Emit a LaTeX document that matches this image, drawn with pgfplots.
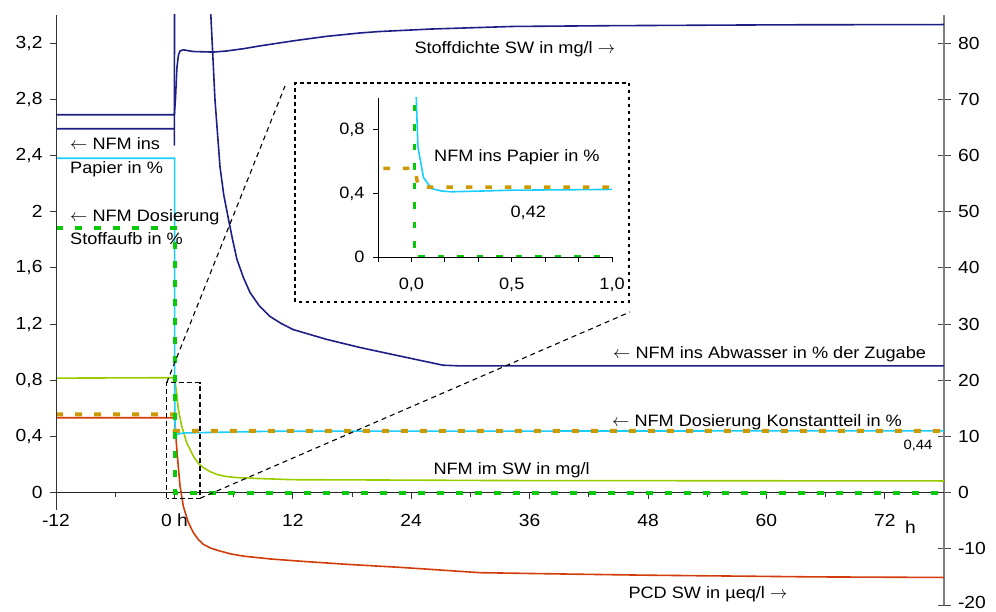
\documentclass[border=0pt]{standalone}
\usepackage{fontspec}
\setmainfont{Liberation Sans}[FakeStretch=1.1]
\usepackage{pgfplots}
\pgfplotsset{compat=1.18}

\definecolor{navyline}{RGB}{30,30,135}
\definecolor{papier}{RGB}{25,205,255}
\definecolor{dosgreen}{RGB}{10,200,10}
\definecolor{konst}{RGB}{204,153,0}
\definecolor{swgreen}{RGB}{153,204,0}
\definecolor{pcd}{RGB}{210,60,10}

\newcommand{\lbl}{\fontsize{16.5}{19}\selectfont}
\newcommand{\tck}{\fontsize{17.5}{20}\selectfont}
\newcommand{\la}{\ensuremath{\leftarrow}}
\newcommand{\ra}{\ensuremath{\rightarrow}}

\begin{document}
\begin{tikzpicture}
\useasboundingbox (-56pt,-7pt) rectangle (940pt,605pt);

% right-hand scale (Stoffdichte, PCD)
\begin{axis}[
  at={(0pt,0pt)}, anchor=south west,
  scale only axis, width=888pt, height=590pt,
  xmin=-12, xmax=78, ymin=-20, ymax=85,
  axis x line=none, axis y line*=right,
  axis line style={-},
  y axis line style={draw=black!50, line width=1.3pt},
  ytick={-20,-10,0,10,20,30,40,50,60,70,80},
  yticklabels={\raisebox{5pt}{-20},-10,0,10,20,30,40,50,60,70,80},
  tick align=center, major tick length=13pt,
  ytick style={black!70, line width=0.9pt},
  tick label style={font=\tck, text=black},
  yticklabel style={xshift=4pt},
]
\end{axis}

% left-hand scale and all curves
\begin{axis}[
  at={(0pt,0pt)}, anchor=south west,
  scale only axis, width=888pt, height=590pt,
  xmin=-12, xmax=78, ymin=-0.8, ymax=3.4,
  axis x line=middle, axis y line=left,
  axis line style={-},
  x axis line style={black!85, line width=1pt},
  y axis line style={draw=none},
  hide obscured x ticks=false, hide obscured y ticks=false,
  xtick={-12,0,12,24,36,48,60,72},
  xticklabels={-12,0 h,12,24,36,48,60,72},
  minor xtick={-6,6,18,30,42,54,66},
  ytick={0,0.4,0.8,1.2,1.6,2,2.4,2.8,3.2},
  yticklabels={0,{0,4},{0,8},{1,2},{1,6},2,{2,4},{2,8},{3,2}},
  tick align=outside, major tick length=6pt, minor tick length=4pt,
  tick style={black!80, line width=0.9pt},
  tick label style={font=\tck, text=black},
  xticklabel style={yshift=-12pt},
  yticklabel style={xshift=-4pt},
  clip=true,
]
% NFM ins Abwasser in % der Zugabe
\addplot[navyline, line width=1.6pt] coordinates {
 (-12,2.59) (0,2.59) (0,2.47) (0.05,9) (3.3,4.0) (3.68,3.42) (4.11,2.80)
 (4.62,2.32) (5.0,2.12) (5.43,1.965) (5.9,1.80) (6.34,1.66) (7.0,1.53)
 (7.66,1.425) (8.6,1.33) (9.69,1.254) (10.8,1.205) (12.02,1.161)
 (15.47,1.09) (18.81,1.033) (22.86,0.972) (25,0.94) (27.22,0.907)
 (29,0.902) (78,0.902)};
% Stoffdichte SW in mg/l (right scale)
\addplot[navyline, line width=1.6pt] table[y expr=\thisrow{v}/25] {
 t v
 -12 67.25
 0 67.25
 0.12 70.5
 0.25 75.5
 0.4 77.8
 0.57 78.6
 0.9 78.8
 1.92 78.5
 3.94 78.4
 5.3 78.6
 7.0 79.0
 8.67 79.5
 12.05 80.4
 15.43 81.2
 18.8 81.8
 20.8 82.06
 26 82.5
 34.3 82.96
 44.45 83.1
 61.4 83.25
 78 83.3
};
% NFM im SW in mg/l
\addplot[swgreen, line width=1.6pt] coordinates {
 (-12,0.815) (0,0.818) (0.05,0.80) (0.22,0.711) (0.4,0.592) (0.74,0.474)
 (1.24,0.356) (1.92,0.26) (2.4,0.21) (2.93,0.178) (3.6,0.15) (4.28,0.13)
 (5.2,0.115) (6.31,0.107) (8.67,0.10) (12.05,0.092) (20,0.09) (33,0.086)
 (78,0.083)};
% PCD SW in µeq/l (right scale)
\addplot[pcd, line width=1.6pt] table[y expr=\thisrow{v}/25] {
 t v
 -12 13.33
 0 13.33
 0.05 12.5
 0.22 8.3
 0.4 4.5
 0.57 1.2
 0.9 -2.4
 1.41 -5.3
 1.92 -7.1
 2.4 -8.3
 2.93 -9.2
 3.7 -9.9
 4.62 -10.4
 5.7 -10.9
 6.98 -11.3
 9.69 -11.8
 12.73 -12.2
 17.8 -12.8
 22.86 -13.3
 31 -14.25
 40 -14.5
 48 -14.7
 65 -15.0
 78 -15.1
};
% NFM ins Papier in %
\addplot[papier, line width=1.6pt] coordinates {
 (-12,2.38) (0.024,2.38) (0.024,1.0) (0.032,0.695) (0.06,0.5) (0.1,0.43)
 (0.15,0.415) (0.2,0.41) (0.5,0.42) (1,0.425) (5,0.43) (10,0.437) (78,0.44)};
% NFM Dosierung Konstantteil in %
\addplot[konst, line width=4pt, dash pattern=on 7pt off 12pt] coordinates {
 (-12,0.557) (0.015,0.557) (0.035,0.44) (78,0.44)};
% NFM Dosierung Stoffaufb in %
\addplot[dosgreen, line width=4pt, dash pattern=on 7pt off 12pt] coordinates {
 (-12,1.886) (0.015,1.886) (0.015,0) (78,0)};
\end{axis}

% left axis line
\draw[black!80, line width=1pt] (0pt,95pt) -- (0pt,590pt);

% zoom frame and connectors
\draw[black, line width=1.1pt, dash pattern=on 5pt off 3pt]
  (110.7pt,106.7pt) rectangle (144pt,222.3pt);
\draw[black, line width=1.1pt, dash pattern=on 5pt off 4pt]
  (110.7pt,222.3pt) -- (229pt,519pt);
\draw[black, line width=1.1pt, dash pattern=on 5pt off 4pt]
  (144pt,106.7pt) -- (574pt,293pt);

% inset frame
\fill[white] (239pt,303pt) rectangle (573pt,522pt);
\draw[black, line width=2.6pt, dash pattern=on 3.5pt off 3.5pt]
  (239pt,303pt) rectangle (573pt,522pt);

% inset: first hour after the start
\begin{axis}[
  at={(322pt,348pt)}, anchor=south west,
  scale only axis, width=234pt, height=159pt,
  xmin=-0.16667, xmax=1, ymin=0, ymax=1,
  axis lines=left, axis line style={-, black, line width=0.9pt},
  xtick={-0.16667,0,0.16667,0.33333,0.5,0.66667,0.83333,1},
  xticklabels={,{0,0},,,{0,5},,,{1,0}},
  ytick={0,0.4,0.8},
  yticklabels={0,{0,4},{0,8}},
  tick align=outside, major tick length=5pt,
  tick style={black, line width=0.8pt},
  tick label style={font=\lbl, text=black},
  xticklabel style={yshift=-12pt},
  yticklabel style={xshift=-5pt},
  clip=true,
]
\addplot[papier, line width=1.6pt] coordinates {
 (-12,2.38) (0.024,2.38) (0.024,1.0) (0.032,0.695) (0.06,0.5) (0.1,0.43)
 (0.15,0.415) (0.2,0.41) (0.5,0.42) (1,0.425) (5,0.43)};
\addplot[konst, line width=3.5pt, dash pattern=on 6.5pt off 13pt] coordinates {
 (-0.14,0.557) (0.015,0.557) (0.035,0.44) (1.5,0.44)};
\addplot[dosgreen, line width=3.5pt, dash pattern=on 6.5pt off 13pt] coordinates {
 (-1,1.886) (0.015,1.886) (0.015,0) (1.5,0)};
\end{axis}

% labels
\begin{scope}[every node/.style={inner sep=0pt, font=\lbl}]
\node[anchor=base west] at (14pt,455pt) {\la{} NFM ins};
\node[anchor=base west] at (14pt,431.7pt) {Papier in \%};
\node[anchor=base west] at (14pt,383.3pt) {\la{} NFM Dosierung};
\node[anchor=base west] at (14pt,360pt) {Stoffaufb in \%};
\node[anchor=base west] at (358.3pt,551.7pt) {Stoffdichte SW in mg/l \ra};
\node[anchor=base west] at (557pt,246.7pt) {\la{} NFM ins Abwasser in \% der Zugabe};
\node[anchor=base west] at (556pt,178.3pt) {\la{} NFM Dosierung Konstantteil in \%};
\node[anchor=base east, font=\fontsize{13.5}{16}\selectfont] at (876.7pt,155pt) {0,44};
\node[anchor=base west] at (377.3pt,130.7pt) {NFM im SW in mg/l};
\node[anchor=base west] at (572.3pt,6.7pt) {PCD SW in µeq/l \ra};
\node[anchor=base west, font=\tck] at (849pt,71.7pt) {h};
\node[anchor=base west] at (378pt,443.3pt) {NFM ins Papier in \%};
\node[anchor=base] at (472.3pt,387.7pt) {0,42};
\end{scope}
\end{tikzpicture}
\end{document}
